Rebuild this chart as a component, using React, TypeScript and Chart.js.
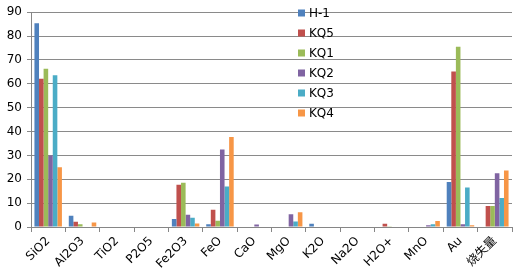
import React, { useEffect, useRef } from "react";
import { Chart, registerables } from "chart.js";

Chart.register(...registerables);

const categories = ["SiO2", "Al2O3", "TiO2", "P2O5", "Fe2O3", "FeO", "CaO", "MgO", "K2O", "Na2O", "H2O+", "MnO", "Au", "烧失量"];
const seriesNames = ["H-1", "KQ5", "KQ1", "KQ2", "KQ3", "KQ4"];
const H1 = [85.4, 4.7, 0, 0, 3.3, 1.2, 0, 0, 1.4, 0, 0, 0, 18.9, 0];
const KQ5 = [62.1, 2.2, 0, 0, 17.7, 7.2, 0, 0, 0.2, 0, 1.4, 0.2, 65.2, 8.8];
const KQ1 = [66.3, 1.1, 0, 0, 18.5, 2.6, 0, 0, 0, 0, 0.3, 0, 75.5, 8.8];
const KQ2 = [30, 0, 0, 0, 5.1, 32.5, 1.0, 5.3, 0, 0, 0, 0.7, 1.1, 22.5];
const KQ3 = [63.6, 0, 0, 0, 3.9, 17, 0, 2.3, 0, 0, 0, 1.2, 16.5, 12.1];
const KQ4 = [25, 1.9, 0, 0, 1.5, 37.7, 0, 6.2, 0, 0, 0, 2.5, 0.7, 23.7];
const seriesValues = [H1, KQ5, KQ1, KQ2, KQ3, KQ4];
const colors = ["#4F81BD", "#C0504D", "#9BBB59", "#8064A2", "#4BACC6", "#F79646"];
const yTicks = [0, 10, 20, 30, 40, 50, 60, 70, 80, 90];

const FONT = "'DejaVu Sans', 'Noto Sans CJK SC', sans-serif";

const legendPlugin = {
  id: "insideLegend",
  afterDraw(chart: any) {
    const ctx = chart.ctx;
    ctx.save();
    ctx.font = `12px ${FONT}`;
    ctx.textBaseline = "middle";
    ctx.textAlign = "left";
    seriesNames.forEach((name, i) => {
      const y = 13 + i * 20;
      ctx.fillStyle = colors[i];
      ctx.fillRect(298, y - 3.5, 7, 7);
      ctx.fillStyle = "#000";
      ctx.fillText(name, 309, y + 0.5);
    });
    ctx.restore();
  },
};

export default function App() {
  const ref = useRef<HTMLCanvasElement | null>(null);
  useEffect(() => {
    document.body.style.margin = "0";
    if (!ref.current) return;
    const chart = new Chart(ref.current, {
      type: "bar",
      data: {
        labels: categories,
        datasets: seriesNames.map((name, i) => ({
          label: name,
          data: seriesValues[i],
          backgroundColor: colors[i],
          borderWidth: 0,
          categoryPercentage: 0.8,
          barPercentage: 1.0,
        })),
      },
      options: {
        animation: false,
        responsive: true,
        maintainAspectRatio: false,
        layout: { padding: { top: 8, right: 4, left: 0, bottom: 0 } },
        plugins: { legend: { display: false }, tooltip: { enabled: false } },
        scales: {
          x: {
            grid: { display: true, drawOnChartArea: false, drawTicks: true, tickLength: 5, color: "#868686" },
            border: { color: "#868686", width: 1 },
            ticks: { minRotation: 45, maxRotation: 45, color: "#000", font: { size: 12, family: FONT }, padding: 2 },
            afterFit: (s: any) => { s.height = 53; },
          },
          y: {
            min: 0,
            max: 90,
            afterBuildTicks: (s: any) => { s.ticks = yTicks.map((v) => ({ value: v })); },
            ticks: { color: "#000", font: { size: 12, family: FONT }, padding: 5 },
            grid: { color: "#8a8a8a", lineWidth: 1, tickLength: 4 },
            border: { color: "#868686", width: 1 },
            afterFit: (s: any) => { s.width = 31; },
          },
        },
      },
      plugins: [legendPlugin],
    });
    return () => chart.destroy();
  }, []);
  return (
    <div style={{ width: 516, height: 280, position: "relative" }}>
      <canvas ref={ref} />
    </div>
  );
}
